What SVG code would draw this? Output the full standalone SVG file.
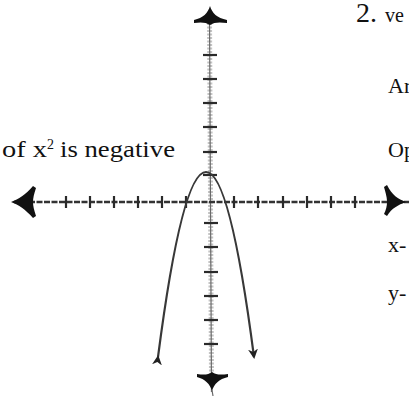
<svg xmlns="http://www.w3.org/2000/svg" width="409" height="396" viewBox="0 0 409 396">
<style>
  .t { font-family: "Liberation Serif", "Times New Roman", serif; fill: #111; }
  .xaxis { stroke: #333; stroke-width: 2.5; stroke-dasharray: 6 1.5; fill: none; }
  .yband { stroke: #c4c4c4; stroke-width: 5; stroke-dasharray: 2 1.5; fill: none; }
  .ycore { stroke: #6a6a6a; stroke-width: 1.2; fill: none; }
  .tick { stroke: #2a2a2a; stroke-width: 2.2; }
  .head { fill: #111; }
  .curve { stroke: #383838; stroke-width: 2.2; fill: none; }
</style>
<defs>
  <marker id="ah" viewBox="0 0 10 10" refX="8" refY="5" markerWidth="4.5" markerHeight="4.5" orient="auto" markerUnits="strokeWidth">
    <path d="M0,0 L10,5 L0,10 L3,5 Z" fill="#222"/>
  </marker>
</defs>

<g id="y-axis">
  <line class="yband" x1="209.5" y1="16" x2="211.5" y2="380"/>
  <line class="ycore" x1="209.5" y1="16" x2="211.5" y2="392"/>
  <g class="tick">
    <line x1="203" y1="55" x2="217" y2="55"/>
    <line x1="203" y1="79" x2="217" y2="79"/>
    <line x1="203" y1="103" x2="217" y2="103"/>
    <line x1="203" y1="127" x2="217" y2="127"/>
    <line x1="203" y1="152" x2="217" y2="152"/>
    <line x1="203" y1="175" x2="217" y2="175"/>
    <line x1="204" y1="223" x2="218" y2="223"/>
    <line x1="204" y1="247" x2="218" y2="247"/>
    <line x1="204" y1="272" x2="218" y2="272"/>
    <line x1="204" y1="296" x2="218" y2="296"/>
    <line x1="204" y1="320" x2="218" y2="320"/>
    <line x1="204" y1="344" x2="218" y2="344"/>
  </g>
  <path class="head" d="M210,6 C212,13 217,18 227,20 L227,23 C220,22 214,22 210,25 C206,22 200,22 194,23 L194,20 C203,18 208,13 210,6 Z"/>
  <path class="head" d="M212,391 C210,384 205,379 197,377 L197,374 C204,375 208,375 212,372 C216,375 221,375 228,374 L228,377 C219,379 214,384 212,391 Z"/>
  <line class="ycore" x1="212" y1="390" x2="213" y2="396"/>
</g>

<g id="x-axis">
  <line class="xaxis" x1="14" y1="202" x2="409" y2="202"/>
  <g class="tick">
    <line x1="66" y1="196" x2="66" y2="208"/>
    <line x1="90" y1="196" x2="90" y2="208"/>
    <line x1="114" y1="196" x2="114" y2="208"/>
    <line x1="138" y1="196" x2="138" y2="208"/>
    <line x1="162" y1="196" x2="162" y2="208"/>
    <line x1="186" y1="196" x2="186" y2="208"/>
    <line x1="234" y1="196" x2="234" y2="208"/>
    <line x1="258" y1="196" x2="258" y2="208"/>
    <line x1="283" y1="196" x2="283" y2="208"/>
    <line x1="307" y1="196" x2="307" y2="208"/>
    <line x1="331" y1="196" x2="331" y2="208"/>
    <line x1="355" y1="196" x2="355" y2="208"/>
  </g>
  <path class="head" d="M11,202 C19,199 25,195 33,186 L36,188 C34,194 33,198 33,202 C33,206 34,210 36,216 L33,218 C25,209 19,205 11,202 Z"/>
  <path class="head" d="M406,202 C398,199 392,195 387,185 L384,187 C386,194 387,198 387,202 C387,206 386,210 384,214 L387,216 C392,208 398,205 406,202 Z"/>
</g>

<g id="parabola">
  <path class="curve" d="M158,357 Q206,-13 254,357" marker-start="url(#ah)" marker-end="url(#ah)"/>
</g>

<g id="labels">
  <text class="t" x="2" y="157" font-size="23" textLength="45" lengthAdjust="spacingAndGlyphs">of x</text>
  <text class="t" x="47" y="149" font-size="14">2</text>
  <text class="t" x="60" y="157" font-size="23" textLength="115" lengthAdjust="spacingAndGlyphs">is negative</text>
  <text class="t" x="356" y="22" font-size="28">2.</text>
  <text class="t" x="385" y="22" font-size="20">ve</text>
  <text class="t" x="388" y="93" font-size="22">Ar</text>
  <text class="t" x="388" y="157" font-size="22">Op</text>
  <text class="t" x="388" y="252" font-size="22">x-</text>
  <text class="t" x="388" y="300" font-size="22">y-</text>
</g>
</svg>
